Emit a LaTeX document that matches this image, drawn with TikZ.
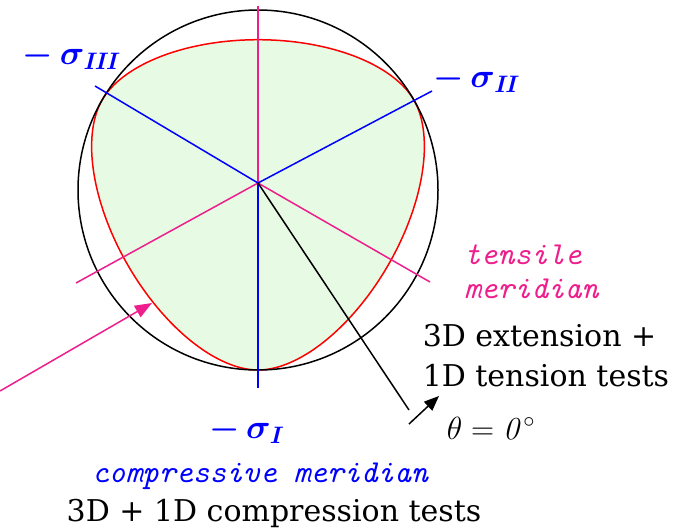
\RequirePackage{fix-cm}
\documentclass[tikz,border=0pt]{standalone}
\usepackage{amsmath}
\usepackage[no-math]{fontspec}
\newfontfamily\testfont{DejaVu Serif}
\usetikzlibrary{arrows.meta}
\definecolor{tenspink}{RGB}{238,30,140}
\definecolor{palegreen}{RGB}{230,250,228}
\begin{document}
\begin{tikzpicture}[x=1pt,y=-1pt,line width=1.5pt,
  declare function={wwc(\t)=cos(acos(cos(3*(\t-30)))/3);
    ww(\c)=(0.60555*\c+0.67*sqrt(1.2111*\c*\c+0.146125))/(1.2111*\c*\c+0.4489);},
  bigtext/.style={font=\fontsize{30}{40}\selectfont\testfont,inner sep=0pt},
  meridian/.style={font=\fontsize{32}{34}\selectfont\ttfamily\itshape},
  axislabel/.style={blue,font=\fontsize{34}{40}\selectfont}]
\useasboundingbox (0,0) rectangle (690,531);
\coordinate (O) at (258,183);
\coordinate (C) at (258,190);
% deviatoric section
\fill[palegreen,draw=red] plot[variable=\t,domain=0:358,samples=180,smooth cycle]
  ({258+180*ww(wwc(\t))*cos(\t)},{190+180*ww(wwc(\t))*sin(\t)});
\draw[black] (C) circle[radius=180];
\coordinate (cI) at (258,388);
\coordinate (cII) at (432,91);
\coordinate (cIII) at (95,86);
\coordinate (tU) at (258,6);
\coordinate (tL) at (76,283);
\coordinate (tR) at (430,282);
\foreach \e in {tU,tL,tR} {\draw[tenspink] (O)--(\e);}
\foreach \e in {cI,cII,cIII} {\draw[blue] (O)--(\e);}
\coordinate (thEnd) at (409,410);
\draw[black] (O)--(thEnd);
% labels
\node[axislabel] (sIII) at (72,56) {$\boldsymbol{-\mkern3mu\sigma_{\mathit{III}}}$};
\node[axislabel] (sII) at (477,79) {$\boldsymbol{-\mkern3mu\sigma_{\mathit{II}}}$};
\node[axislabel] (sI) at (247,430) {$\boldsymbol{-\mkern3mu\sigma_{\mathit{I}}}$};
\node[meridian,tenspink,align=left,anchor=west] (tens) at (460,272) {tensile\\meridian};
\node[meridian,blue] (comp) at (260,476) {compressive meridian};
\node[bigtext,anchor=base] (ctest) at (274,521) {3D + 1D compression tests};
\node[bigtext,align=left,anchor=west] (ttest) at (422,356) {3D extension +\\1D tension tests};
\node[font=\fontsize{32}{36}\selectfont] (theta) at (491,428) {$\theta = \mathit{0}^\circ$};
% arrows
\coordinate (thTail) at (409,424);
\coordinate (thTip) at (439,396);
\draw[black,-{Triangle[length=15pt,width=12pt]}] (thTail)--(thTip);
\coordinate (pTail) at (0,391);
\coordinate (pTip) at (152,303);
\draw[tenspink,-{Triangle[length=17pt,width=13pt]}] (pTail)--(pTip);
\end{tikzpicture}
\end{document}
